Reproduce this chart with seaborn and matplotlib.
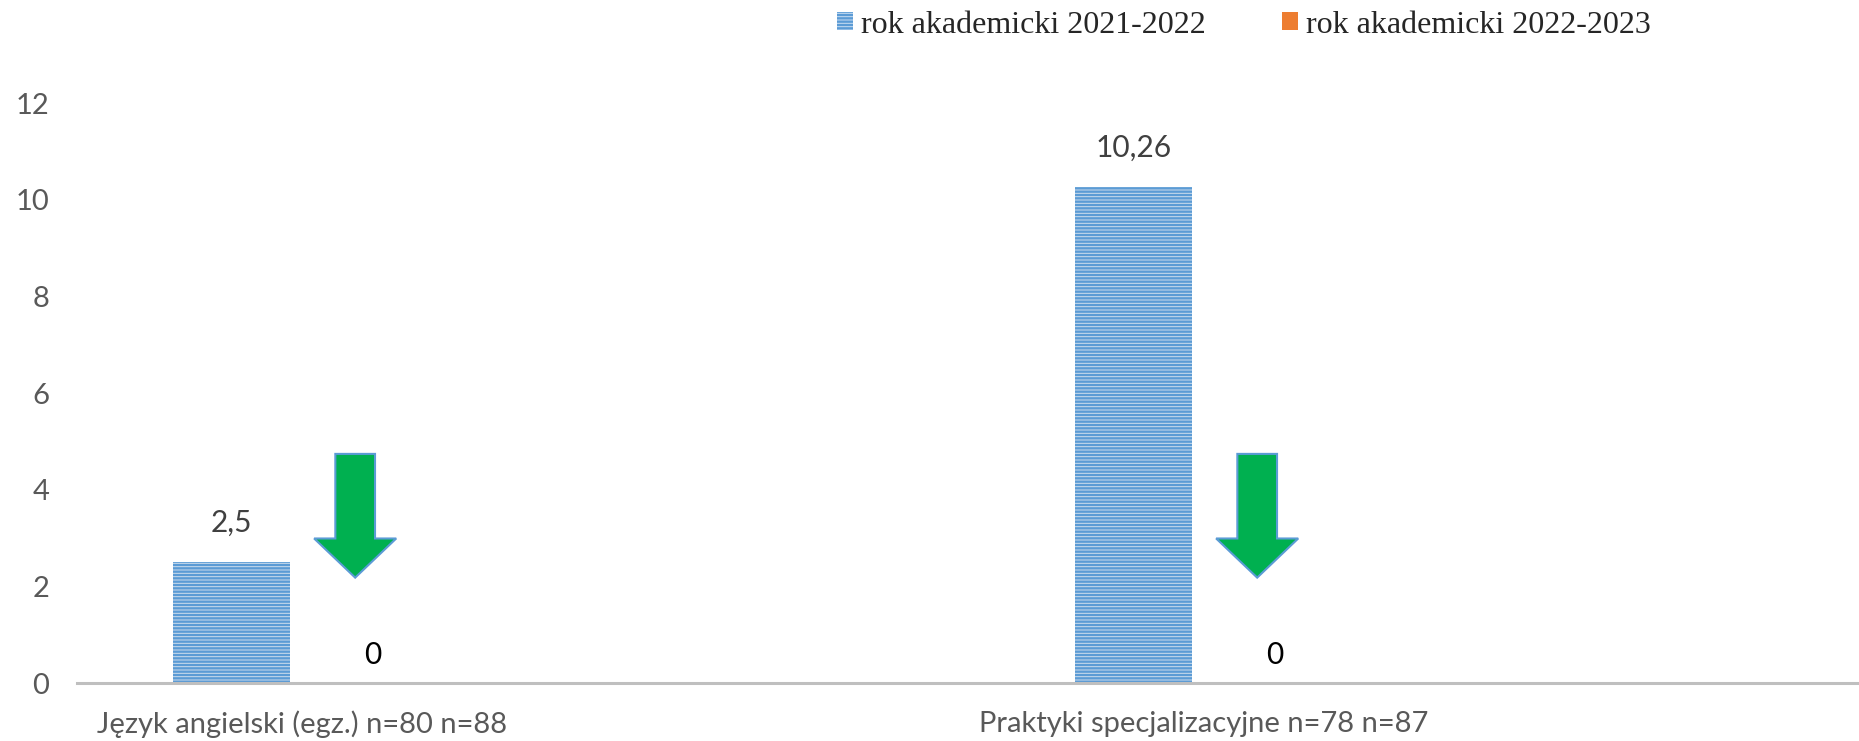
"""
Bar chart: rok akademicki 2021-2022 vs 2022-2023 (two subjects).
"""

import numpy as np
import pandas as pd
import matplotlib
matplotlib.use("Agg")  # headless backend
import matplotlib.pyplot as plt
from matplotlib.patches import Patch, FancyArrow
import seaborn as sns

# Data
categories = ["Język angielski (egz.) n=80 n=88", "Praktyki specjalizacyjne n=78 n=87"]
series = ["rok akademicki 2021-2022", "rok akademicki 2022-2023"]
values_2122 = [2.5, 10.26]
values_2223 = [0, 0]
y_ticks = [0, 2, 4, 6, 8, 10, 12]

# Colours
BLUE = "#5B9BD5"
BLUE_LIGHT = "#C9DDF2"
ORANGE = "#ED7D31"
GREEN = "#00B050"

df = pd.DataFrame({
    "kategoria": categories * 2,
    "seria": [series[0]] * 2 + [series[1]] * 2,
    "wartosc": values_2122 + values_2223,
})

sns.set_style("white")
plt.rcParams["font.family"] = ["Lato", "DejaVu Sans"]
plt.rcParams["hatch.linewidth"] = 1.7

fig = plt.figure(figsize=(18.59, 7.41), dpi=100)
ax = fig.add_axes([77 / 1859, 58 / 741, 1 - 77 / 1859, 580 / 741])

sns.barplot(data=df, x="kategoria", y="wartosc", hue="seria", hue_order=series,
            order=categories, palette=[BLUE_LIGHT, ORANGE], width=0.312, gap=0.17,
            legend=False, ax=ax, errorbar=None)

# striped fill on the first series
for bar in ax.containers[0]:
    bar.set_hatch("-----")
    bar.set_edgecolor(BLUE)
    bar.set_linewidth(0)

# data labels
ax.bar_label(ax.containers[0], labels=[f"{v:g}".replace(".", ",") for v in values_2122],
             padding=18, fontsize=21.5, color="#404040")
ax.bar_label(ax.containers[1], labels=[f"{v:g}" for v in values_2223],
             padding=10, fontsize=21.5, color="#000000")

# green "down" arrows next to each group
for i in range(len(categories)):
    ax.add_patch(FancyArrow(i + 0.059, 4.74, 0, -2.56, width=0.044, head_width=0.091,
                            head_length=0.81, length_includes_head=True,
                            facecolor=GREEN, edgecolor=BLUE, linewidth=1.5, zorder=3))

ax.set_xlim(-0.2494, 1.7262)
ax.set_ylim(0, 12)
ax.set_yticks(y_ticks)
ax.set_xlabel("")
ax.set_ylabel("")
ax.tick_params(axis="y", length=0, pad=20, labelsize=21, labelcolor="#595959")
ax.tick_params(axis="x", length=0, pad=20, labelsize=21, labelcolor="#595959")
sns.despine(ax=ax, left=True)
ax.spines["bottom"].set_color("#BFBFBF")
ax.spines["bottom"].set_linewidth(2.2)

handles = [Patch(facecolor=BLUE_LIGHT, edgecolor=BLUE, hatch="-----", linewidth=0),
           Patch(facecolor=ORANGE, linewidth=0)]
fig.legend(handles, series, loc="center", bbox_to_anchor=(0.669, 0.966), ncol=2,
           frameon=False, prop={"family": "Liberation Serif", "size": 23},
           handlelength=0.5, handleheight=0.5, handletextpad=0.25, columnspacing=2.4)

fig.savefig("out.png", dpi=100)
plt.close(fig)
